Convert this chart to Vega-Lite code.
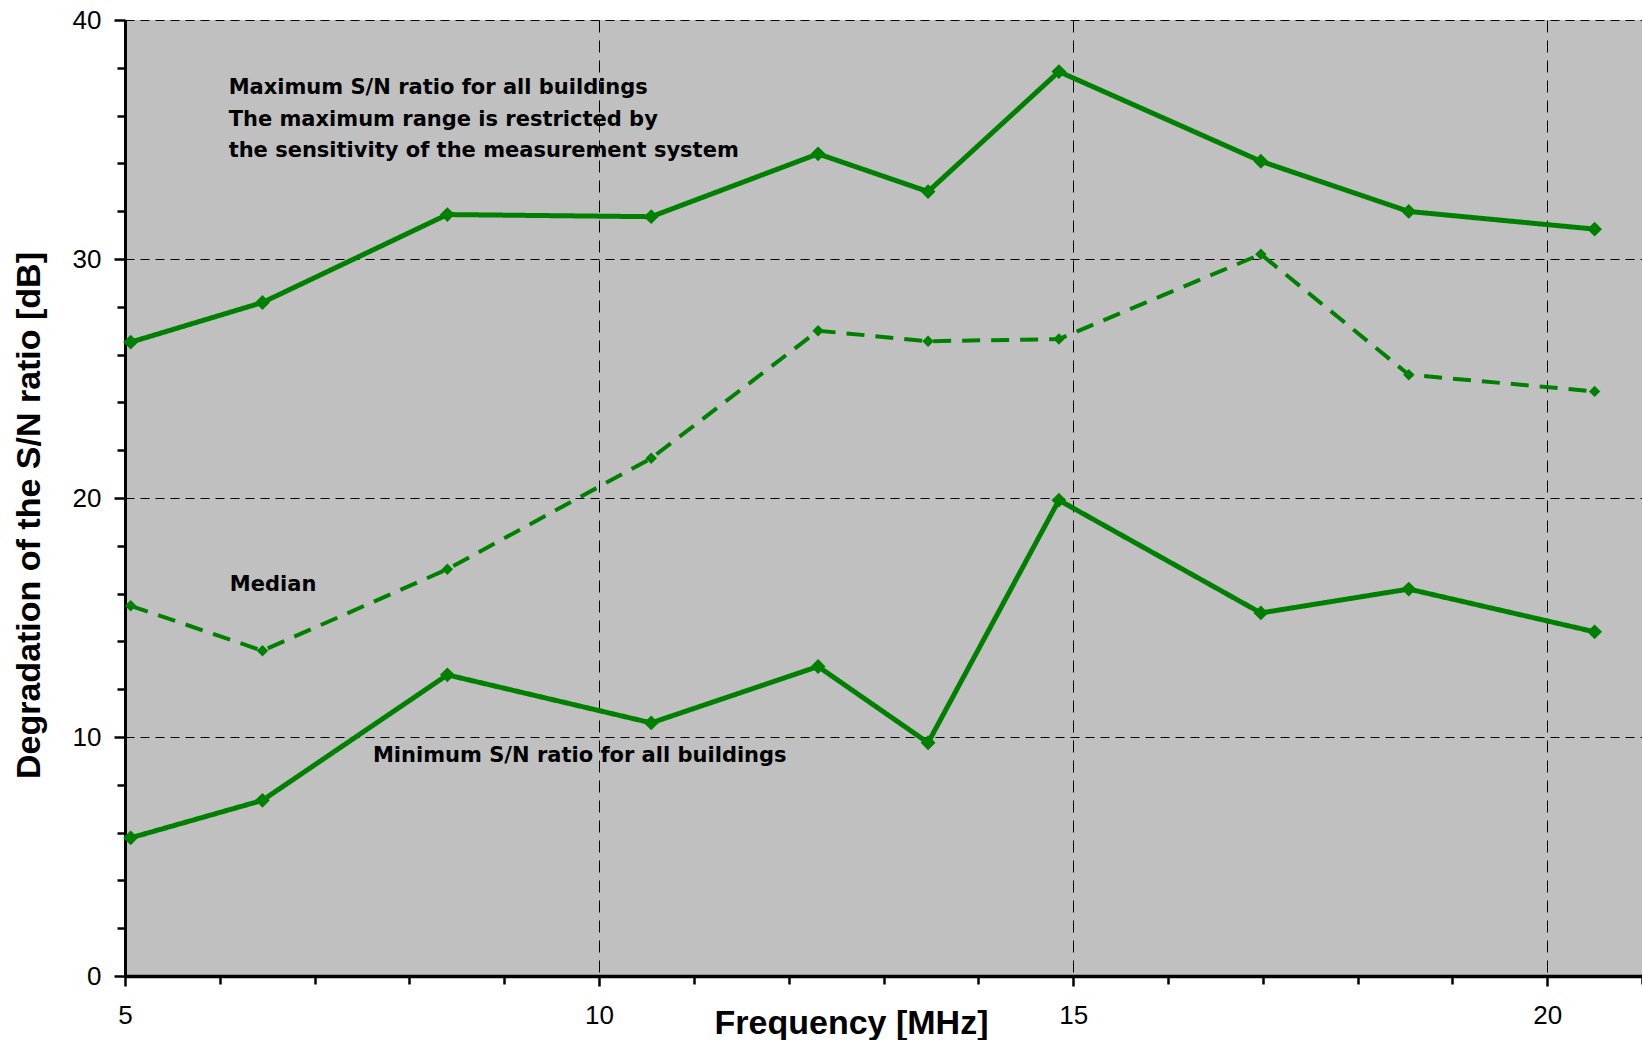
{
  "$schema": "https://vega.github.io/schema/vega-lite/v6.json",
  "width": 1517,
  "height": 956,
  "autosize": {"type": "none"},
  "padding": {"left": 125, "top": 20, "right": 0, "bottom": 64},
  "background": "white",
  "config": {
    "view": {"fill": "#c0c0c0", "stroke": null},
    "axis": {
      "domainColor": "black",
      "tickColor": "black",
      "labelColor": "black",
      "titleColor": "black",
      "labelFont": "Liberation Sans",
      "labelFontSize": 26,
      "labelFontWeight": "normal",
      "titleFont": "Liberation Sans",
      "titleFontSize": 34,
      "titleFontWeight": "bold",
      "labelOverlap": false,
      "labelFlush": false
    }
  },
  "datasets": {
    "series": [
      {"series": "Maximum", "f": 5.06, "v": 26.52},
      {"series": "Maximum", "f": 6.45, "v": 28.18},
      {"series": "Maximum", "f": 8.40, "v": 31.86},
      {"series": "Maximum", "f": 10.55, "v": 31.77},
      {"series": "Maximum", "f": 12.31, "v": 34.40},
      {"series": "Maximum", "f": 13.47, "v": 32.82},
      {"series": "Maximum", "f": 14.85, "v": 37.84},
      {"series": "Maximum", "f": 16.98, "v": 34.09},
      {"series": "Maximum", "f": 18.54, "v": 31.99},
      {"series": "Maximum", "f": 20.50, "v": 31.25},
      {"series": "Median", "f": 5.06, "v": 15.49},
      {"series": "Median", "f": 6.45, "v": 13.61},
      {"series": "Median", "f": 8.40, "v": 17.02},
      {"series": "Median", "f": 10.55, "v": 21.66},
      {"series": "Median", "f": 12.31, "v": 27.00},
      {"series": "Median", "f": 13.47, "v": 26.56},
      {"series": "Median", "f": 14.85, "v": 26.65},
      {"series": "Median", "f": 16.98, "v": 30.20},
      {"series": "Median", "f": 18.54, "v": 25.16},
      {"series": "Median", "f": 20.50, "v": 24.46},
      {"series": "Minimum", "f": 5.06, "v": 5.78},
      {"series": "Minimum", "f": 6.45, "v": 7.35},
      {"series": "Minimum", "f": 8.40, "v": 12.60},
      {"series": "Minimum", "f": 10.55, "v": 10.59},
      {"series": "Minimum", "f": 12.31, "v": 12.95},
      {"series": "Minimum", "f": 13.47, "v": 9.76},
      {"series": "Minimum", "f": 14.85, "v": 19.91},
      {"series": "Minimum", "f": 16.98, "v": 15.19},
      {"series": "Minimum", "f": 18.54, "v": 16.19},
      {"series": "Minimum", "f": 20.50, "v": 14.40}
    ],
    "notes": [
      {"label": "Maximum S/N ratio for all buildings", "f": 6.093, "v": 37.14},
      {"label": "The maximum range is restricted by", "f": 6.093, "v": 35.82},
      {"label": "the sensitivity of the measurement system", "f": 6.093, "v": 34.51},
      {"label": "Median", "f": 6.106, "v": 16.34},
      {"label": "Minimum S/N ratio for all buildings", "f": 7.615, "v": 9.195}
    ]
  },
  "layer": [
    {
      "data": {"name": "series"},
      "mark": {"type": "line", "color": "#008000", "strokeJoin": "miter"},
      "encoding": {
        "x": {
          "field": "f", "type": "quantitative",
          "scale": {"domain": [5, 21], "nice": false, "zero": false},
          "axis": {
            "title": "Frequency [MHz]",
            "format": "d",
            "values": [5, 6, 7, 8, 9, 10, 11, 12, 13, 14, 15, 16, 17, 18, 19, 20, 21],
            "labelExpr": "datum.value % 5 === 0 ? datum.label : ''",
            "domainWidth": 3.5,
            "tickWidth": 2.5,
            "tickSize": {"condition": {"test": "datum.value % 5 === 0", "value": 10}, "value": 8},
            "labelPadding": 16,
            "grid": true,
            "gridColor": "black",
            "gridWidth": 1,
            "gridDash": [12, 8],
            "gridOpacity": {"condition": {"test": "datum.value % 5 === 0 && datum.value > 5", "value": 1}, "value": 0},
            "titleX": 726,
            "titleY": 57,
            "titleAlign": "center",
            "titleBaseline": "alphabetic"
          }
        },
        "y": {
          "field": "v", "type": "quantitative",
          "scale": {"domain": [0, 40], "nice": false},
          "axis": {
            "title": "Degradation of the S/N ratio [dB]",
            "format": "d",
            "values": [0, 2, 4, 6, 8, 10, 12, 14, 16, 18, 20, 22, 24, 26, 28, 30, 32, 34, 36, 38, 40],
            "labelExpr": "datum.value % 10 === 0 ? datum.label : ''",
            "domainWidth": 3,
            "tickWidth": 2.5,
            "tickSize": {"condition": {"test": "datum.value % 10 === 0", "value": 11}, "value": 8},
            "labelPadding": 13,
            "grid": true,
            "gridColor": "black",
            "gridWidth": 1,
            "gridDash": [9, 6],
            "gridOpacity": {"condition": {"test": "datum.value % 10 === 0 && datum.value > 0", "value": 1}, "value": 0},
            "titleX": -86,
            "titleY": 495,
            "titleAlign": "center",
            "titleBaseline": "alphabetic",
            "titleAngle": -90
          }
        },
        "detail": {"field": "series"},
        "strokeDash": {
          "field": "series", "type": "nominal",
          "scale": {"domain": ["Maximum", "Median", "Minimum"], "range": [[1, 0], [18, 11], [1, 0]]},
          "legend": null
        },
        "strokeWidth": {
          "field": "series", "type": "nominal",
          "scale": {"type": "ordinal", "domain": ["Maximum", "Median", "Minimum"], "range": [5, 4, 5]},
          "legend": null
        }
      }
    },
    {
      "data": {"name": "series"},
      "mark": {"type": "point", "shape": "diamond", "filled": true, "color": "#008000", "opacity": 1},
      "encoding": {
        "x": {"field": "f", "type": "quantitative"},
        "y": {"field": "v", "type": "quantitative"},
        "size": {
          "field": "series", "type": "nominal",
          "scale": {"type": "ordinal", "domain": ["Maximum", "Median", "Minimum"], "range": [220, 130, 220]},
          "legend": null
        }
      }
    },
    {
      "data": {"name": "notes"},
      "mark": {"type": "text", "align": "left", "baseline": "middle", "font": "DejaVu Sans", "fontWeight": "bold", "fontSize": 21, "color": "black"},
      "encoding": {
        "x": {"field": "f", "type": "quantitative"},
        "y": {"field": "v", "type": "quantitative"},
        "text": {"field": "label"}
      }
    }
  ]
}
